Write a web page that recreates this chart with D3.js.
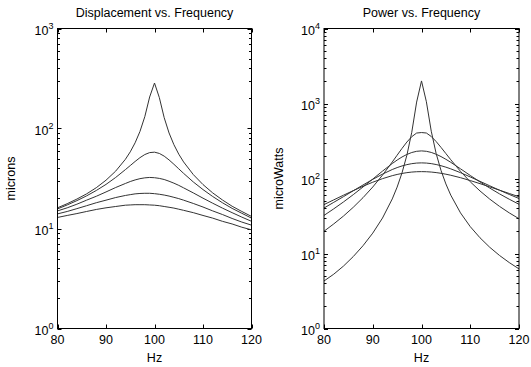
<!DOCTYPE html>
<html>
<head>
<meta charset="utf-8">
<script src="https://cdn.jsdelivr.net/npm/d3@7"></script>
<style>
  body { margin: 0; background: #fff; }
  svg { display: block; }
  text { font-family: "Liberation Sans", Arial, Helvetica, sans-serif; fill: #000; }
</style>
</head>
<body>
<div id="chart"></div>
<script>
// frequency samples (Hz)
const hz = [80, 82, 84, 86, 88, 90, 92, 94, 95, 96, 97, 98, 99, 100,
            101, 102, 103, 104, 105, 106, 108, 110, 112, 114, 116, 118, 120];

// displacement (microns), one array per damping level
const disp1 = [16.1, 17.7, 19.7, 22.2, 25.6, 30.4, 37.5, 49.2, 58.4, 71.9, 93.3, 131.3, 206.6, 285,
               203.5, 128.2, 90.2, 68.9, 55.4, 46.3, 34.6, 27.5, 22.7, 19.3, 16.7, 14.8, 13.2];
const disp2 = [15.7, 17.2, 19.0, 21.2, 24.0, 27.6, 32.4, 38.8, 42.6, 46.8, 51.1, 54.9, 57.4, 58.0,
               56.3, 52.9, 48.5, 43.9, 39.5, 35.6, 29.2, 24.5, 20.9, 18.1, 15.9, 14.2, 12.7];
const disp3 = [15.0, 16.1, 17.5, 19.2, 21.0, 23.2, 25.7, 28.2, 29.5, 30.6, 31.5, 32.1, 32.4, 32.2,
               31.7, 30.9, 29.7, 28.4, 27.0, 25.5, 22.7, 20.1, 17.9, 16.0, 14.4, 13.0, 11.8];
const disp4 = [14.0, 14.8, 15.8, 16.9, 18.1, 19.2, 20.4, 21.4, 21.8, 22.2, 22.4, 22.5, 22.5, 22.3,
               22.0, 21.6, 21.1, 20.5, 19.9, 19.2, 17.8, 16.4, 15.0, 13.8, 12.6, 11.6, 10.8];
const disp5 = [12.9, 13.5, 14.1, 14.8, 15.5, 16.1, 16.6, 17.1, 17.2, 17.3, 17.3, 17.3, 17.2, 17.1,
               16.9, 16.6, 16.3, 16.0, 15.6, 15.2, 14.4, 13.5, 12.7, 11.8, 11.1, 10.3, 9.7];

// power (microWatts)
const pow1 = [4.3, 5.3, 6.8, 9.1, 12.7, 18.7, 29.7, 53.4, 76.8, 118.8, 204.3, 413, 1045, 2000,
              1055, 427, 215.6, 128.1, 84.6, 60.0, 34.8, 22.8, 16.2, 12.1, 9.42, 7.57, 6.23];
const pow2 = [19.8, 24.8, 31.6, 41.3, 55.5, 77.0, 110.9, 165.8, 204.5, 251.9, 306.3, 361.1, 403.7, 410,
              404.0, 363.1, 311.2, 260.0, 215.1, 178.0, 124.5, 90.4, 68.2, 53.1, 42.5, 34.8, 29.1];
const pow3 = [32.2, 39.4, 48.7, 60.9, 77.1, 98.2, 125.4, 158.4, 176.1, 193.5, 209.3, 222.1, 230.5, 233.3,
              230.5, 222.6, 210.6, 196.1, 180.3, 164.4, 134.7, 109.8, 90.0, 74.5, 62.4, 52.9, 45.3];
const pow4 = [40.4, 48.1, 57.3, 68.6, 81.9, 97.4, 114.4, 131.7, 139.8, 147.0, 153.1, 157.7, 160.6, 161.5,
              160.6, 157.9, 153.6, 148.1, 141.6, 134.5, 119.6, 104.9, 91.6, 79.9, 69.8, 61.3, 54.1];
const pow5 = [44.9, 51.9, 59.9, 68.9, 78.8, 89.2, 99.5, 109.1, 113.2, 116.8, 119.7, 121.8, 123.1, 123.5,
              123.1, 121.9, 119.9, 117.3, 114.1, 110.5, 102.5, 93.9, 85.4, 77.3, 69.9, 63.1, 57.1];

const xTicks = [80, 90, 100, 110, 120];

const panels = [
  { title: "Displacement vs. Frequency", ylabel: "microns", series: [disp1, disp2, disp3, disp4, disp5],
    yDomain: [1, 1000], left: 57.5, right: 251.5, ylabelX: 15 },
  { title: "Power vs. Frequency", ylabel: "microWatts", series: [pow1, pow2, pow3, pow4, pow5],
    yDomain: [1, 10000], left: 324, right: 519, ylabelX: 283 }
];

const W = 531, H = 367;
const plotTop = 28.5, plotBottom = 328.5;

const svg = d3.select("#chart").append("svg")
  .attr("width", W)
  .attr("height", H);

panels.forEach(p => {
  const g = svg.append("g");
  const x = d3.scaleLinear().domain([80, 120]).range([p.left, p.right]);
  const y = d3.scaleLog().domain(p.yDomain).range([plotBottom, plotTop]);

  // log ticks: majors at decades, minors between
  const allTicks = y.ticks().filter(t => t >= p.yDomain[0] && t <= p.yDomain[1]);
  const isMajor = t => Math.abs(Math.log10(t) - Math.round(Math.log10(t))) < 1e-9;

  allTicks.forEach(t => {
    const len = isMajor(t) ? 4 : 2.5;
    const yy = Math.round(y(t)) + 0.5;
    g.append("line").attr("x1", p.left).attr("x2", p.left + len)
      .attr("y1", yy).attr("y2", yy).attr("stroke", "#000");
    g.append("line").attr("x1", p.right - len).attr("x2", p.right)
      .attr("y1", yy).attr("y2", yy).attr("stroke", "#000");
  });

  xTicks.forEach(t => {
    const xx = Math.round(x(t)) + 0.5;
    g.append("line").attr("x1", xx).attr("x2", xx)
      .attr("y1", plotBottom).attr("y2", plotBottom - 4).attr("stroke", "#000");
    g.append("line").attr("x1", xx).attr("x2", xx)
      .attr("y1", plotTop).attr("y2", plotTop + 4).attr("stroke", "#000");
    g.append("text")
      .attr("x", x(t)).attr("y", plotBottom + 15)
      .attr("text-anchor", "middle")
      .style("font-size", "12.5px")
      .text(t);
  });

  // decade labels as 10 with superscript
  allTicks.filter(isMajor).forEach(t => {
    const e = Math.round(Math.log10(t));
    const lab = g.append("text")
      .attr("x", p.left - 4).attr("y", y(t) + 6)
      .attr("text-anchor", "end")
      .style("font-size", "12.5px");
    lab.append("tspan").text("10");
    lab.append("tspan").attr("dy", -6).style("font-size", "9px").text(e);
  });

  // curves
  const line = d3.line()
    .x((d, i) => x(hz[i]))
    .y(d => y(d));

  p.series.forEach(s => {
    g.append("path")
      .datum(s)
      .attr("d", line)
      .attr("fill", "none")
      .attr("stroke", "#333")
      .attr("stroke-width", 1);
  });

  // axes box
  g.append("rect")
    .attr("x", p.left).attr("y", plotTop)
    .attr("width", p.right - p.left).attr("height", plotBottom - plotTop)
    .attr("fill", "none").attr("stroke", "#000").attr("stroke-width", 1);

  g.append("text")
    .attr("x", (p.left + p.right) / 2).attr("y", 17)
    .attr("text-anchor", "middle")
    .style("font-size", "12.5px")
    .text(p.title);

  g.append("text")
    .attr("x", (p.left + p.right) / 2).attr("y", 362)
    .attr("text-anchor", "middle")
    .style("font-size", "12.5px")
    .text("Hz");

  g.append("text")
    .attr("transform", `translate(${p.ylabelX},${(plotTop + plotBottom) / 2}) rotate(-90)`)
    .attr("text-anchor", "middle")
    .style("font-size", "12.5px")
    .text(p.ylabel);
});
</script>
</body>
</html>
